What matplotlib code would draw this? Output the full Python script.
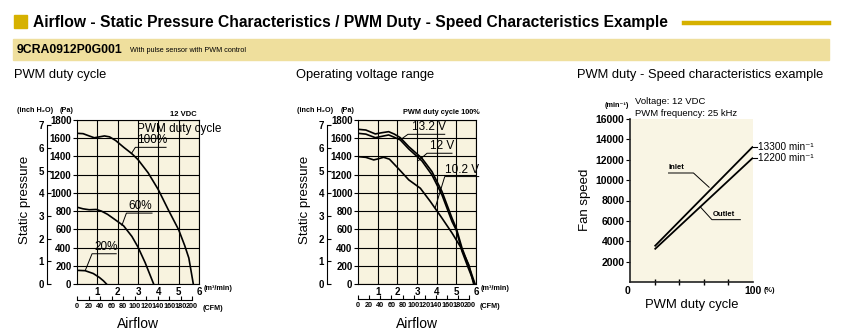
import matplotlib
matplotlib.use("Agg")
import matplotlib.pyplot as plt
import matplotlib.font_manager as fm
from matplotlib.patches import Rectangle

W, H = 845, 333

def has_font(name):
    try:
        fm.findfont(fm.FontProperties(family=name), fallback_to_default=False)
        return True
    except Exception:
        return False

REG = "Liberation Sans" if has_font("Liberation Sans") else "DejaVu Sans"
NAR = "Liberation Sans Narrow" if has_font("Liberation Sans Narrow") else REG
NARF = [NAR, "DejaVu Sans"]

# ---------------- data ----------------
# Chart 1: PWM duty cycle (12 VDC)
flow_100 = [0, 0.3, 0.6, 0.85, 1.1, 1.35, 1.6, 1.9, 2.3, 2.7, 3.0, 3.5, 4.0, 4.5, 5.0, 5.3, 5.5, 5.72]
pa_100 = [1654, 1650, 1625, 1605, 1615, 1625, 1615, 1575, 1500, 1430, 1365, 1220, 1035, 810, 595, 420, 285, 0]
flow_60 = [0, 0.3, 0.6, 0.95, 1.2, 1.5, 1.88, 2.29, 2.7, 3.0, 3.35, 3.77]
pa_60 = [843, 825, 815, 818, 800, 765, 705, 639, 522, 405, 235, 0]
flow_20 = [0, 0.4, 0.8, 1.1, 1.3, 1.45]
pa_20 = [150, 146, 115, 72, 35, 0]

# Chart 2: Operating voltage range (PWM duty cycle 100%)
flow_132 = [0, 0.4, 0.88, 1.2, 1.56, 1.85, 2.15, 2.58, 3.25, 3.76, 4.27, 4.78, 5.0, 5.29, 5.65, 5.95]
pa_132 = [1698, 1690, 1647, 1660, 1672, 1645, 1606, 1508, 1380, 1234, 1015, 723, 610, 394, 190, 0]
flow_12 = [0, 0.4, 0.88, 1.2, 1.56, 1.85, 2.15, 2.58, 3.25, 3.76, 4.27, 4.78, 5.0, 5.29, 5.6, 5.93]
pa_12 = [1654, 1645, 1606, 1620, 1636, 1610, 1581, 1482, 1351, 1197, 978, 686, 590, 358, 180, 0]
flow_102 = [0, 0.4, 0.8, 1.05, 1.3, 1.6, 2.07, 2.58, 3.17, 3.68, 4.27, 4.78, 5.2, 5.63, 5.88]
pa_102 = [1398, 1390, 1362, 1375, 1391, 1370, 1263, 1143, 1051, 905, 723, 560, 412, 212, 0]

# Chart 3: PWM duty - speed
duty = [20, 100]
speed_inlet = [3500, 13300]
speed_outlet = [3200, 12200]

pa_ticks = list(range(0, 1801, 200))
inch_ticks = list(range(0, 8))
flow_ticks = [1, 2, 3, 4, 5, 6]
cfm_ticks = list(range(0, 201, 20))
speed_ticks = list(range(2000, 16001, 2000))

CREAM = "#f8f3df"
CREAM3 = "#f9f5e4"
BAND = "#efdf9d"
GOLD = "#d6b100"

fig = plt.figure(figsize=(W / 100, H / 100), dpi=100)

def rect(l, t, r, b):
    return [l / W, (H - b) / H, (r - l) / W, (b - t) / H]

def px(x, y):
    return x / W, 1 - y / H

# ---------------- header ----------------
fig.patches.append(Rectangle(px(14, 28), 13 / W, 13 / H, transform=fig.transFigure,
                             color=GOLD, zorder=1))
fig.text(*px(33, 22), "Airflow - Static Pressure Characteristics / PWM Duty - Speed Characteristics Example",
         fontsize=11.25, fontweight="bold", family=REG, va="center", ha="left")
fig.add_artist(plt.Line2D([684 / W, 829 / W], [1 - 23 / H, 1 - 23 / H], color=GOLD, lw=3.2))
fig.patches.append(Rectangle(px(13, 60), (829 - 13) / W, 21 / H, transform=fig.transFigure,
                             color=BAND, zorder=0))
fig.text(*px(17, 50), "9CRA0912P0G001", fontsize=8.8, fontweight="bold", family=REG,
         va="center", ha="left")
fig.text(*px(130, 51), "With pulse sensor with PWM control", fontsize=5.2, family=NAR,
         va="center", ha="left")

fig.text(*px(14, 75), "PWM duty cycle", fontsize=9.3, family=REG, va="center")
fig.text(*px(296, 75), "Operating voltage range", fontsize=9.3, family=REG, va="center")
fig.text(*px(577, 75), "PWM duty - Speed characteristics example", fontsize=9.3, family=REG, va="center")


def pq_axes(l, r, inch_x, cfm_y):
    ax = fig.add_axes(rect(l, 120, r, 284))
    ax.set_facecolor(CREAM)
    ax.set_xlim(0, 6)
    ax.set_ylim(0, 1800)
    ax.set_xticks(flow_ticks)
    ax.set_yticks(pa_ticks)
    ax.grid(True, color="black", lw=0.8)
    ax.set_axisbelow(True)
    for s in ax.spines.values():
        s.set_linewidth(0.8)
    ax.tick_params(axis="x", length=0, pad=2, labelsize=7)
    ax.tick_params(axis="y", length=3, width=0.8, pad=1, labelsize=7)
    for lab in ax.get_xticklabels() + ax.get_yticklabels():
        lab.set_family(NAR)
        lab.set_fontweight("bold")
    w = r - l
    sec = ax.secondary_yaxis(-(l - inch_x) / w, functions=(lambda p: p / 249.09, lambda i: i * 249.09))
    sec.set_yticks(inch_ticks)
    sec.tick_params(direction="in", length=3, width=0.8, pad=2, labelsize=7)
    sec.spines["left"].set_linewidth(0.8)
    sec.spines["left"].set_bounds(0, 7)
    for lab in sec.get_yticklabels():
        lab.set_family(NAR)
        lab.set_fontweight("bold")
    secx = ax.secondary_xaxis(-(cfm_y - 284) / 164, functions=(lambda m: m * 35.3147, lambda c: c / 35.3147))
    secx.set_xticks(cfm_ticks)
    secx.tick_params(direction="in", length=3, width=0.8, pad=2, labelsize=5.2)
    secx.spines["bottom"].set_linewidth(0.8)
    secx.spines["bottom"].set_bounds(0, 200)
    for lab in secx.get_xticklabels():
        lab.set_family(NAR)
        lab.set_fontweight("bold")
    return ax


def units(l, r, inch_x, cfm_y):
    fig.text(*px(inch_x - 30, 110), "(inch H\u2082O)", fontsize=5.2, family=NARF, fontweight="bold",
             va="center", ha="left")
    fig.text(*px(l - 17, 110), "(Pa)", fontsize=5.2, family=NAR, fontweight="bold",
             va="center", ha="left")
    fig.text(*px(r + 5, 288), "(m\u00b3/min)", fontsize=5.2, family=NAR, fontweight="bold",
             va="center", ha="left")
    fig.text(*px(r + 4, cfm_y + 8), "(CFM)", fontsize=5.2, family=NAR, fontweight="bold",
             va="center", ha="left")
    fig.text(*px((l + r) / 2, 324), "Airflow", fontsize=10, family=REG, va="center", ha="center")
    fig.text(*px(inch_x - 22, 200), "Static pressure", fontsize=9.5, family=REG, va="center",
             ha="center", rotation=90)


def callout(ax, label, tx, ty, ux0, ux1, uy, lx, ly, fs=8.5):
    ax.text(tx, ty, label, fontsize=fs, family=REG, va="bottom", ha="left")
    ax.plot([lx, ux0, ux1], [ly, uy, uy], color="black", lw=0.7, clip_on=False)


LW = 1.2
# ---------------- chart 1 ----------------
ax1 = pq_axes(77, 199, 47, 300)
units(77, 199, 47, 300)
ax1.plot(flow_100, pa_100, color="black", lw=LW)
ax1.plot(flow_60, pa_60, color="black", lw=LW)
ax1.plot(flow_20, pa_20, color="black", lw=LW)
ax1.text(2.95, 1698, "PWM duty cycle", fontsize=8.5, family=REG, va="center", ha="left")
callout(ax1, "100%", 2.93, 1510, 2.87, 4.38, 1500, 2.67, 1430)
callout(ax1, "60%", 2.54, 790, 2.43, 3.69, 778, 2.21, 645)
callout(ax1, "20%", 0.87, 342, 0.74, 1.93, 332, 0.41, 150)
fig.text(*px(197, 114), "12 VDC", fontsize=5.5, family=REG, fontweight="bold", va="center", ha="right")

# ---------------- chart 2 ----------------
ax2 = pq_axes(358, 476, 327, 299)
units(358, 476, 327, 299)
ax2.plot(flow_132, pa_132, color="black", lw=LW)
ax2.plot(flow_12, pa_12, color="black", lw=LW)
ax2.plot(flow_102, pa_102, color="black", lw=LW)
callout(ax2, "13.2 V", 2.75, 1655, 2.54, 4.41, 1643, 2.2, 1590)
callout(ax2, "12 V", 3.68, 1447, 3.51, 4.78, 1435, 3.08, 1355)
callout(ax2, "10.2 V", 4.44, 1190, 4.41, 6.14, 1179, 3.93, 840)
fig.text(*px(480, 112), "PWM duty cycle 100%", fontsize=5.3, family=REG, fontweight="bold",
         va="center", ha="right")

# ---------------- chart 3 ----------------
ax3 = fig.add_axes(rect(630, 119, 753, 282))
ax3.set_facecolor(CREAM3)
ax3.set_xlim(0, 100)
ax3.set_ylim(0, 16000)
ax3.spines["top"].set_visible(False)
ax3.spines["right"].set_visible(False)
for s in ("left", "bottom"):
    ax3.spines[s].set_linewidth(1.2)
    ax3.spines[s].set_color("#222222")
ax3.set_yticks(speed_ticks)
ax3.set_xticks([0, 100])
ax3.set_xticklabels(["0", "100"])
ax3.set_xticks([20, 40, 60, 80], minor=True)
ax3.tick_params(axis="y", length=3, width=0.8, pad=1, labelsize=7.5)
ax3.tick_params(axis="x", which="major", length=0, pad=3, labelsize=7.5)
ax3.tick_params(axis="x", which="minor", direction="inout", length=4, width=1.0)
for lab in ax3.get_xticklabels() + ax3.get_yticklabels():
    lab.set_family(NAR)
    lab.set_fontweight("bold")
ax3.get_xticklabels()[0].set_horizontalalignment("right")
ax3.plot(duty, speed_inlet, color="black", lw=1.3, solid_capstyle="butt")
ax3.plot(duty, speed_outlet, color="black", lw=1.3, solid_capstyle="butt")
for yv in (speed_inlet[-1], speed_outlet[-1]):
    ax3.plot([duty[-1], 103.3], [yv, yv], color="black", lw=0.8, clip_on=False)
    ax3.text(104, yv, f"{yv} min\u207b\u00b9", fontsize=7.2, family=NARF, va="center", ha="left")
ax3.text(31.5, 10850, "Inlet", fontsize=5.5, family=REG, fontweight="bold", va="bottom", ha="left")
ax3.plot([31.3, 51.6, 64.3], [10700, 10700, 9300], color="black", lw=0.7)
ax3.text(67.5, 6270, "Outlet", fontsize=5.5, family=REG, fontweight="bold", va="bottom", ha="left")
ax3.plot([89.7, 66.6, 57.1], [6119, 6119, 7380], color="black", lw=0.7)

fig.text(*px(605, 106), "(min\u207b\u00b9)", fontsize=5.2, family=NARF, fontweight="bold", va="center", ha="left")
fig.text(*px(635, 102), "Voltage: 12 VDC", fontsize=6.8, family=REG, va="center", ha="left")
fig.text(*px(635, 113), "PWM frequency: 25 kHz", fontsize=6.8, family=REG, va="center", ha="left")
fig.text(*px(764, 291), "(%)", fontsize=5.2, family=NAR, fontweight="bold", va="center", ha="left")
fig.text(*px(692, 305), "PWM duty cycle", fontsize=9.4, family=REG, va="center", ha="center")
fig.text(*px(585, 200), "Fan speed", fontsize=9.5, family=REG, va="center", ha="center", rotation=90)

fig.savefig("out.png", dpi=100)
